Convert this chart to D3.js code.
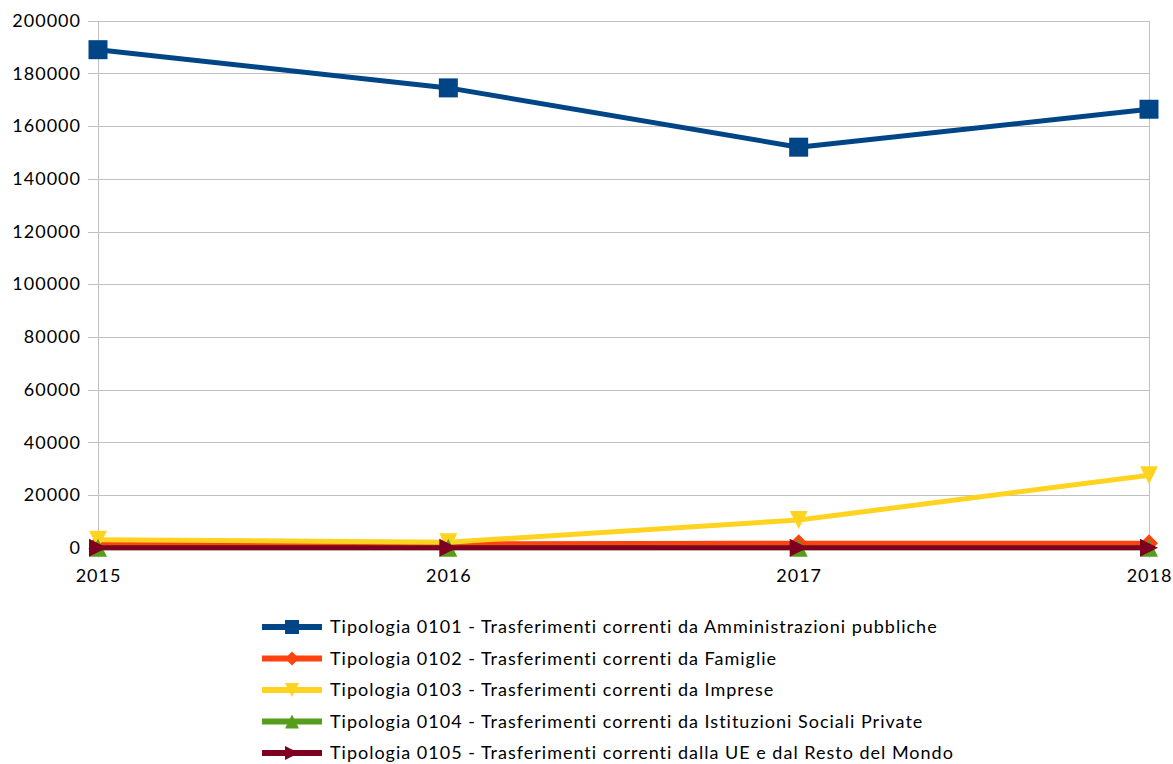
<!DOCTYPE html>
<html>
<head>
<meta charset="utf-8">
<script src="https://cdn.jsdelivr.net/npm/d3@7"></script>
<style>
  body { margin: 0; background: #fff; }
  text { font-family: Lato, "Open Sans", sans-serif; fill: #000; letter-spacing: 1px; }
</style>
</head>
<body>
<svg width="1173" height="764"></svg>
<script>
'use strict';

// dati
var years = ['2015', '2016', '2017', '2018'];
var yTicks = [0, 20000, 40000, 60000, 80000, 100000, 120000, 140000, 160000, 180000, 200000];

var tip0101 = [189000, 174500, 152000, 166400];
var tip0102 = [1500, 1500, 1700, 1700];
var tip0103 = [3000, 2100, 10500, 27500];
var tip0104 = [0, 0, 0, 0];
var tip0105 = [0, 0, 0, 0];

var seriesNames = [
  'Tipologia 0101 - Trasferimenti correnti da Amministrazioni pubbliche',
  'Tipologia 0102 - Trasferimenti correnti da Famiglie',
  'Tipologia 0103 - Trasferimenti correnti da Imprese',
  'Tipologia 0104 - Trasferimenti correnti da Istituzioni Sociali Private',
  'Tipologia 0105 - Trasferimenti correnti dalla UE e dal Resto del Mondo'
];

var series = [
  { name: seriesNames[0], values: tip0101, color: '#004586', marker: 'square' },
  { name: seriesNames[1], values: tip0102, color: '#ff420e', marker: 'diamond' },
  { name: seriesNames[2], values: tip0103, color: '#ffd320', marker: 'down' },
  { name: seriesNames[3], values: tip0104, color: '#579d1c', marker: 'up' },
  { name: seriesNames[4], values: tip0105, color: '#7e0021', marker: 'right' }
];

var svg = d3.select('svg');

var x = d3.scalePoint().domain(years).range([98, 1149]);
var y = d3.scaleLinear().domain([0, 200000]).range([547.7, 20.7]);

// forme dei marker
function markerPath(type, s) {
  var h = s / 2;
  if (type === 'square') return 'M' + (-h) + ',' + (-h) + 'h' + s + 'v' + s + 'h' + (-s) + 'Z';
  if (type === 'diamond') return 'M0,' + (-h) + 'L' + h + ',0L0,' + h + 'L' + (-h) + ',0Z';
  if (type === 'down') return 'M' + (-h) + ',' + (-h) + 'L' + h + ',' + (-h) + 'L0,' + h + 'Z';
  if (type === 'up') return 'M' + (-h) + ',' + h + 'L' + h + ',' + h + 'L0,' + (-h) + 'Z';
  return 'M' + (-h) + ',' + (-h) + 'L' + h + ',0L' + (-h) + ',' + h + 'Z';
}

// griglia
var grid = svg.append('g').attr('class', 'grid');
grid.selectAll('line.h')
  .data(yTicks)
  .enter()
  .append('line')
  .attr('x1', 88)
  .attr('x2', 1149)
  .attr('y1', function (d) { return Math.round(y(d)) + 0.5; })
  .attr('y2', function (d) { return Math.round(y(d)) + 0.5; })
  .attr('stroke', '#c0c0c0')
  .attr('stroke-width', 1);

grid.selectAll('line.v')
  .data([years[0], years[years.length - 1]])
  .enter()
  .append('line')
  .attr('x1', function (d) { return x(d) + 0.5; })
  .attr('x2', function (d) { return x(d) + 0.5; })
  .attr('y1', y(200000))
  .attr('y2', y(0) + 10)
  .attr('stroke', '#c0c0c0')
  .attr('stroke-width', 1);

// etichette assi
var yAxis = d3.axisLeft(y).tickValues(yTicks).tickSize(0).tickPadding(17).tickFormat(d3.format('d'));
var gy = svg.append('g').attr('transform', 'translate(98,0)').call(yAxis);
gy.select('.domain').remove();
gy.selectAll('text').style('font-size', '18px').attr('fill', '#000');

var xAxis = d3.axisBottom(x).tickSize(0).tickPadding(22);
var gx = svg.append('g').attr('transform', 'translate(0,' + y(0) + ')').call(xAxis);
gx.select('.domain').remove();
gx.selectAll('text').style('font-size', '18px').attr('fill', '#000');

// linee
var line = d3.line()
  .x(function (d, i) { return x(years[i]); })
  .y(function (d) { return y(d); });

var sg = svg.append('g')
  .selectAll('g')
  .data(series)
  .enter()
  .append('g');

sg.append('path')
  .attr('d', function (d) { return line(d.values); })
  .attr('fill', 'none')
  .attr('stroke', function (d) { return d.color; })
  .attr('stroke-width', 5)
  .attr('stroke-linejoin', 'round');

sg.selectAll('path.m')
  .data(function (d) {
    return d.values.map(function (v, i) { return { v: v, i: i, s: d }; });
  })
  .enter()
  .append('path')
  .attr('class', 'm')
  .attr('transform', function (d) { return 'translate(' + x(years[d.i]) + ',' + y(d.v) + ')'; })
  .attr('d', function (d) { return markerPath(d.s.marker, d.s.marker === 'square' ? 19 : 18); })
  .attr('fill', function (d) { return d.s.color; });

// legenda
var legend = svg.append('g')
  .selectAll('g')
  .data(series)
  .enter()
  .append('g')
  .attr('transform', function (d, i) { return 'translate(262,' + (627 + i * 31.5) + ')'; });

legend.append('line')
  .attr('x1', 0)
  .attr('x2', 60)
  .attr('stroke', function (d) { return d.color; })
  .attr('stroke-width', 6);

legend.append('path')
  .attr('transform', 'translate(30,0)')
  .attr('d', function (d) { return markerPath(d.marker, 14); })
  .attr('fill', function (d) { return d.color; });

legend.append('text')
  .attr('x', 68)
  .attr('dy', '0.35em')
  .style('font-size', '18px')
  .text(function (d) { return d.name; });
</script>
</body>
</html>
